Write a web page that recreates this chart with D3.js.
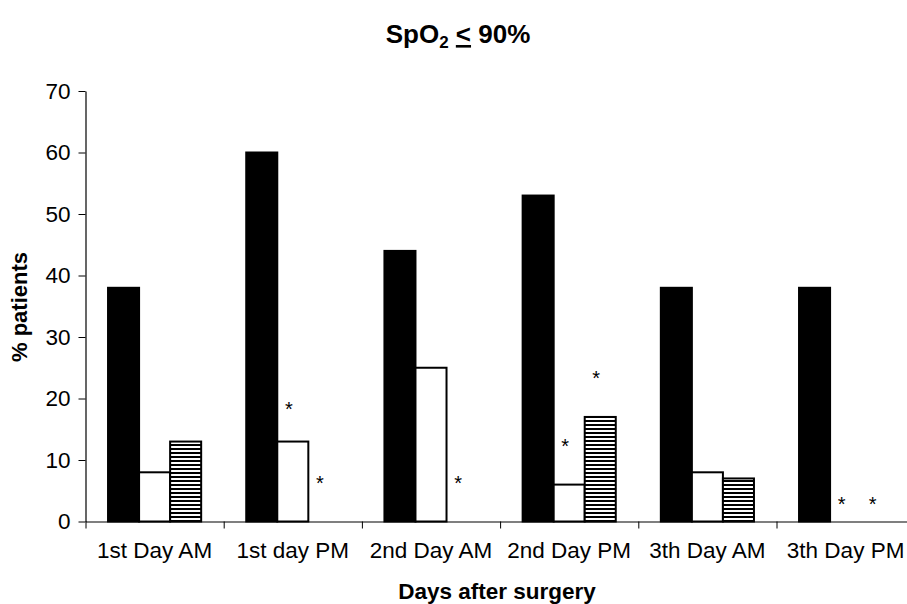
<!DOCTYPE html>
<html>
<head>
<meta charset="utf-8">
<script src="https://cdn.jsdelivr.net/npm/d3@7"></script>
<style>
  html, body { margin: 0; padding: 0; background: #fff; }
  svg { display: block; font-family: Arial, "Liberation Sans", sans-serif; }
</style>
</head>
<body>
<svg id="chart" width="907" height="604"></svg>
<script>
// Share of patients with SpO2 <= 90%, by post-operative time point
const categories = ["1st Day AM", "1st day PM", "2nd Day AM", "2nd Day PM", "3th Day AM", "3th Day PM"];
const seriesSolid   = [38, 60, 44, 53, 38, 38];
const seriesOpen    = [8, 13, 25, 6, 8, 0];
const seriesStriped = [13, 0, 0, 17, 7, 0];
const yTickValues = [0, 10, 20, 30, 40, 50, 60, 70];
// significance markers: category index, series index, height on the value axis
const markerCats   = [1, 1, 2, 3, 3, 5, 5];
const markerSeries = [1, 2, 2, 1, 2, 1, 2];
const markerLevels = [19, 7, 7, 13, 24, 3.5, 3.5];

const svg = d3.select("#chart");
const defs = svg.append("defs");
const stripes = defs.append("pattern")
  .attr("id", "hstripes").attr("patternUnits", "userSpaceOnUse")
  .attr("width", 8).attr("height", 4);
stripes.append("rect").attr("width", 8).attr("height", 4).attr("fill", "#fff");
stripes.append("rect").attr("width", 8).attr("height", 2).attr("fill", "#000");

const plotLeft = 85.5, catStep = 138.2, plotBottom = 521.5, plotTop = 91;
const fontFamily = "Arial, 'Liberation Sans', sans-serif";

const x = d3.scaleBand().domain(categories)
  .range([plotLeft, plotLeft + catStep * categories.length]).padding(0);
const xIdx = d3.scaleLinear().domain([0, categories.length])
  .range([plotLeft, plotLeft + catStep * categories.length]);
const xs = d3.scaleBand().domain([0, 1, 2])
  .range([0, x.bandwidth()]).paddingInner(0).paddingOuter(0.726);
const y = d3.scaleLinear().domain([0, 70]).range([plotBottom, plotTop]);

const fills = ["#000", "#fff", "url(#hstripes)"];
const series = [seriesSolid, seriesOpen, seriesStriped];

const bars = [];
series.forEach((vals, s) => vals.forEach((v, i) => {
  if (v > 0) bars.push({ cat: categories[i], s, v });
}));

svg.append("g").selectAll("rect").data(bars).join("rect")
  .attr("x", d => x(d.cat) + xs(d.s))
  .attr("y", d => y(d.v))
  .attr("width", xs.bandwidth())
  .attr("height", d => y(0) - y(d.v))
  .attr("fill", d => fills[d.s])
  .attr("stroke", "#000")
  .attr("stroke-width", 2);

// y axis
const yAxis = svg.append("g").attr("transform", `translate(${plotLeft},0)`)
  .call(d3.axisLeft(y).tickValues(yTickValues).tickSize(7).tickPadding(8).tickSizeOuter(0));
yAxis.select(".domain").attr("stroke", "#000").attr("stroke-width", 1.2);
yAxis.selectAll(".tick line").attr("stroke", "#000");
yAxis.selectAll("text").attr("font-size", 22.5).attr("fill", "#000")
  .attr("font-family", fontFamily);

// x axis: boundary ticks and centred labels
const xTicks = svg.append("g").attr("transform", `translate(0,${plotBottom})`)
  .call(d3.axisBottom(xIdx).tickValues(d3.range(categories.length + 1))
    .tickFormat("").tickSize(7).tickSizeOuter(0));
xTicks.select(".domain").attr("stroke", "#000").attr("stroke-width", 1.2);
xTicks.selectAll(".tick line").attr("stroke", "#000");

const xLabels = svg.append("g").attr("transform", `translate(0,${plotBottom})`)
  .call(d3.axisBottom(x).tickSize(0).tickPadding(21));
xLabels.select(".domain").remove();
xLabels.selectAll("text").attr("font-size", 22.5).attr("fill", "#000")
  .attr("font-family", fontFamily);

// significance asterisks
svg.append("g").selectAll("text").data(markerCats).join("text")
  .attr("x", (c, i) => x(categories[c]) + xs(markerSeries[i]) + xs.bandwidth() / 2 - 4)
  .attr("y", (c, i) => y(markerLevels[i]))
  .attr("dy", "0.56em")
  .attr("text-anchor", "middle")
  .attr("font-size", 20)
  .text("*");

// titles
const title = svg.append("text")
  .attr("x", 458).attr("y", 43)
  .attr("text-anchor", "middle")
  .attr("font-size", 26).attr("font-weight", "bold");
title.append("tspan").text("SpO");
title.append("tspan").attr("font-size", 17).attr("dy", 5).text("2");
title.append("tspan").attr("dy", -5).text(" ");
title.append("tspan").attr("text-decoration", "underline").text("<");
title.append("tspan").text(" 90%");

svg.append("text")
  .attr("x", 497).attr("y", 599)
  .attr("text-anchor", "middle")
  .attr("font-size", 22.5).attr("font-weight", "bold")
  .text("Days after surgery");

svg.append("text")
  .attr("transform", "translate(27,307) rotate(-90)")
  .attr("text-anchor", "middle")
  .attr("font-size", 22).attr("font-weight", "bold")
  .text("% patients");
</script>
</body>
</html>
